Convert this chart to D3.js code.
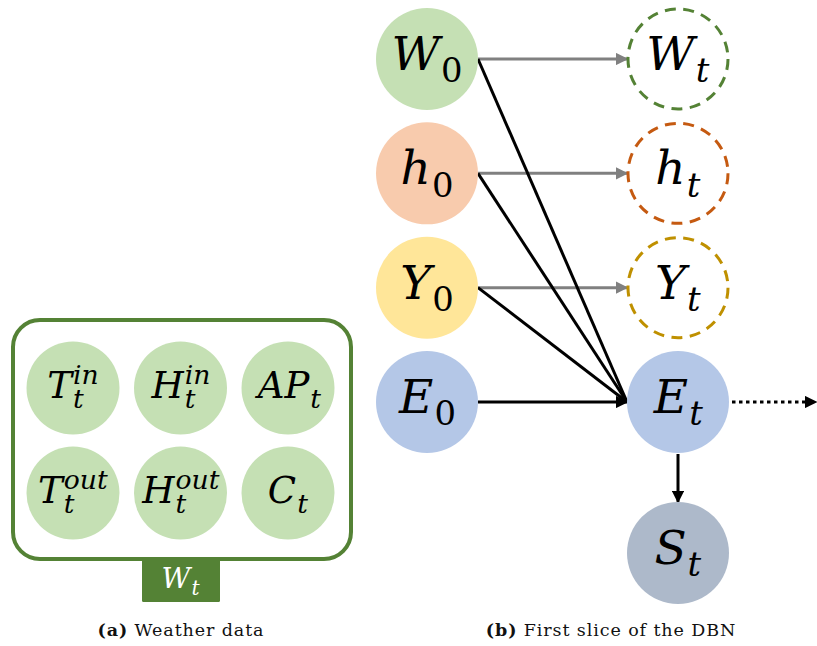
<!DOCTYPE html>
<html>
<head>
<meta charset="utf-8">
<script src="https://cdn.jsdelivr.net/npm/d3@7"></script>
<style>
  body { margin: 0; background: #fff; }
  .math { font-family: "DejaVu Serif", "Liberation Serif", serif; font-style: italic; }
  .cap { font-family: "DejaVu Serif", "Liberation Serif", serif; font-size: 17.5px; letter-spacing: 0.9px; fill: #111; }
</style>
</head>
<body>
<div id="chart"></div>
<script>
// weather variables (left panel), laid out on a 3x2 grid
const weatherNodes = [
  { base: "T", sub: "t", sup: "in", col: 0, row: 0 },
  { base: "H", sub: "t", sup: "in", col: 1, row: 0 },
  { base: "AP", sub: "t", sup: null, col: 2, row: 0 },
  { base: "T", sub: "t", sup: "out", col: 0, row: 1 },
  { base: "H", sub: "t", sup: "out", col: 1, row: 1 },
  { base: "C", sub: "t", sup: null, col: 2, row: 1 }
];

// DBN nodes (right panel)
const sliceNodes = [
  { id: "W0", base: "W", sub: "0", col: 0, row: 0, fill: "#c5e0b4", stroke: null },
  { id: "h0", base: "h", sub: "0", col: 0, row: 1, fill: "#f8cbad", stroke: null },
  { id: "Y0", base: "Y", sub: "0", col: 0, row: 2, fill: "#ffe699", stroke: null },
  { id: "E0", base: "E", sub: "0", col: 0, row: 3, fill: "#b4c7e7", stroke: null },
  { id: "Wt", base: "W", sub: "t", col: 1, row: 0, fill: "#fff", stroke: "#548235" },
  { id: "ht", base: "h", sub: "t", col: 1, row: 1, fill: "#fff", stroke: "#c55a11" },
  { id: "Yt", base: "Y", sub: "t", col: 1, row: 2, fill: "#fff", stroke: "#bf9000" },
  { id: "Et", base: "E", sub: "t", col: 1, row: 3, fill: "#b4c7e7", stroke: null },
  { id: "St", base: "S", sub: "t", col: 1, row: 4.32, fill: "#adb9ca", stroke: null }
];

// edges: persistence (gray) and dependency (black)
const grayEdges = [["W0", "Wt"], ["h0", "ht"], ["Y0", "Yt"]];
const blackEdges = [["W0", "Et"], ["h0", "Et"], ["Y0", "Et"], ["E0", "Et"]];
const captions = [
  { tag: "(a)", text: "Weather data", panel: "a" },
  { tag: "(b)", text: "First slice of the DBN", panel: "b" }
];

const W = 817, H = 646;
const svg = d3.select("#chart").append("svg").attr("width", W).attr("height", H);

const defs = svg.append("defs");
function marker(id, color) {
  defs.append("marker")
    .attr("id", id)
    .attr("viewBox", "0 0 10 10")
    .attr("refX", 9).attr("refY", 5)
    .attr("markerWidth", 4.2).attr("markerHeight", 4.2)
    .attr("markerUnits", "strokeWidth")
    .attr("orient", "auto")
    .append("path").attr("d", "M0,0L10,5L0,10z").attr("fill", color);
}
marker("arrGray", "#808080");
marker("arrBlack", "#000");

// one text element: base letter, then sub and (optional) sup stacked via tspans
function drawLabel(g, d, size) {
  const small = size * 0.72;
  const subUpright = /\d/.test(d.sub);
  const t = g.append("text").attr("class", "math").attr("font-size", size);
  t.append("tspan").text(d.base);
  const sub = t.append("tspan")
    .attr("font-size", small)
    .style("font-style", subUpright ? "normal" : "italic")
    .attr("dx", 1).attr("dy", size * 0.26)
    .text(d.sub);
  if (d.sup) {
    const sw = sub.node().getComputedTextLength();
    t.append("tspan")
      .attr("font-size", small)
      .attr("dx", -sw).attr("dy", -size * 0.64)
      .text(d.sup);
  }
  return g.node().getBBox();
}

function placeLabel(parent, d, cx, cy, size) {
  const g = parent.append("g");
  const bb = drawLabel(g, d, size);
  g.attr("transform", `translate(${cx - bb.x - bb.width / 2},${cy + size * 0.3})`);
}

// ---- panel (a)
const ax = d3.scaleLinear().domain([0, 2]).range([73, 288]);
const ay = d3.scaleLinear().domain([0, 1]).range([388, 493]);
const pa = svg.append("g");

pa.append("rect")
  .attr("x", 13).attr("y", 320).attr("width", 338).attr("height", 239)
  .attr("rx", 27).attr("ry", 27)
  .attr("fill", "#fff").attr("stroke", "#548235").attr("stroke-width", 4);

pa.selectAll("circle.w").data(weatherNodes).join("circle")
  .attr("class", "w")
  .attr("cx", d => ax(d.col)).attr("cy", d => ay(d.row))
  .attr("r", 46.5).attr("fill", "#c5e0b4");

weatherNodes.forEach(d => placeLabel(pa, d, ax(d.col), ay(d.row) - 1, 37));

pa.append("rect")
  .attr("x", 142).attr("y", 558).attr("width", 78).attr("height", 44)
  .attr("fill", "#548235").attr("rx", 1.5);
{
  const g = pa.append("g").attr("fill", "#fff");
  const bb = drawLabel(g, { base: "W", sub: "t" }, 28);
  g.attr("transform", `translate(${181 - bb.x - bb.width / 2},${588})`);
}

// ---- panel (b)
const bx = d3.scaleLinear().domain([0, 1]).range([427, 678]);
const by = d3.scaleLinear().domain([0, 3]).range([59, 402]);
const R = 51;
const byId = new Map(sliceNodes.map(d => [d.id, d]));
const pb = svg.append("g");

// gray persistence arrows
pb.selectAll("line.g").data(grayEdges).join("line")
  .attr("class", "g")
  .attr("x1", d => bx(byId.get(d[0]).col) + R)
  .attr("y1", d => by(byId.get(d[0]).row))
  .attr("x2", d => bx(byId.get(d[1]).col) - R)
  .attr("y2", d => by(byId.get(d[1]).row))
  .attr("stroke", "#808080").attr("stroke-width", 3)
  .attr("marker-end", "url(#arrGray)");

// black dependency lines into E_t
pb.selectAll("line.b").data(blackEdges).join("line")
  .attr("class", "b")
  .attr("x1", d => bx(byId.get(d[0]).col) + R)
  .attr("y1", d => by(byId.get(d[0]).row))
  .attr("x2", d => bx(byId.get(d[1]).col) - R)
  .attr("y2", d => by(byId.get(d[1]).row))
  .attr("stroke", "#000").attr("stroke-width", 3)
  .attr("marker-end", d => d[0] === "E0" ? "url(#arrBlack)" : null);

// E_t -> S_t
const et = byId.get("Et"), st = byId.get("St");
pb.append("line")
  .attr("x1", bx(et.col)).attr("y1", by(et.row) + R + 1)
  .attr("x2", bx(st.col)).attr("y2", by(st.row) - R)
  .attr("stroke", "#000").attr("stroke-width", 3)
  .attr("marker-end", "url(#arrBlack)");

// dotted arrow to the next slice
pb.append("line")
  .attr("x1", bx(et.col) + R + 3).attr("y1", by(et.row))
  .attr("x2", 816).attr("y2", by(et.row))
  .attr("stroke", "#000").attr("stroke-width", 3)
  .attr("stroke-dasharray", "3.5,3.5")
  .attr("marker-end", "url(#arrBlack)");

pb.selectAll("circle.n").data(sliceNodes).join("circle")
  .attr("class", "n")
  .attr("cx", d => bx(d.col)).attr("cy", d => by(d.row))
  .attr("r", d => d.stroke ? R - 1 : R)
  .attr("fill", d => d.stroke ? "none" : d.fill)
  .attr("stroke", d => d.stroke)
  .attr("stroke-width", d => d.stroke ? 3 : 0)
  .attr("stroke-dasharray", d => d.stroke ? "11,7.5" : null);

sliceNodes.forEach(d => placeLabel(pb, d, bx(d.col), by(d.row) - 3, 47));

// ---- captions
const capX = { a: 181, b: 611 };
captions.forEach(c => {
  const t = svg.append("text").attr("class", "cap")
    .attr("x", capX[c.panel]).attr("y", 636)
    .attr("text-anchor", "middle");
  t.append("tspan").attr("font-weight", "bold").text(c.tag);
  t.append("tspan").text(" " + c.text);
});
</script>
</body>
</html>
